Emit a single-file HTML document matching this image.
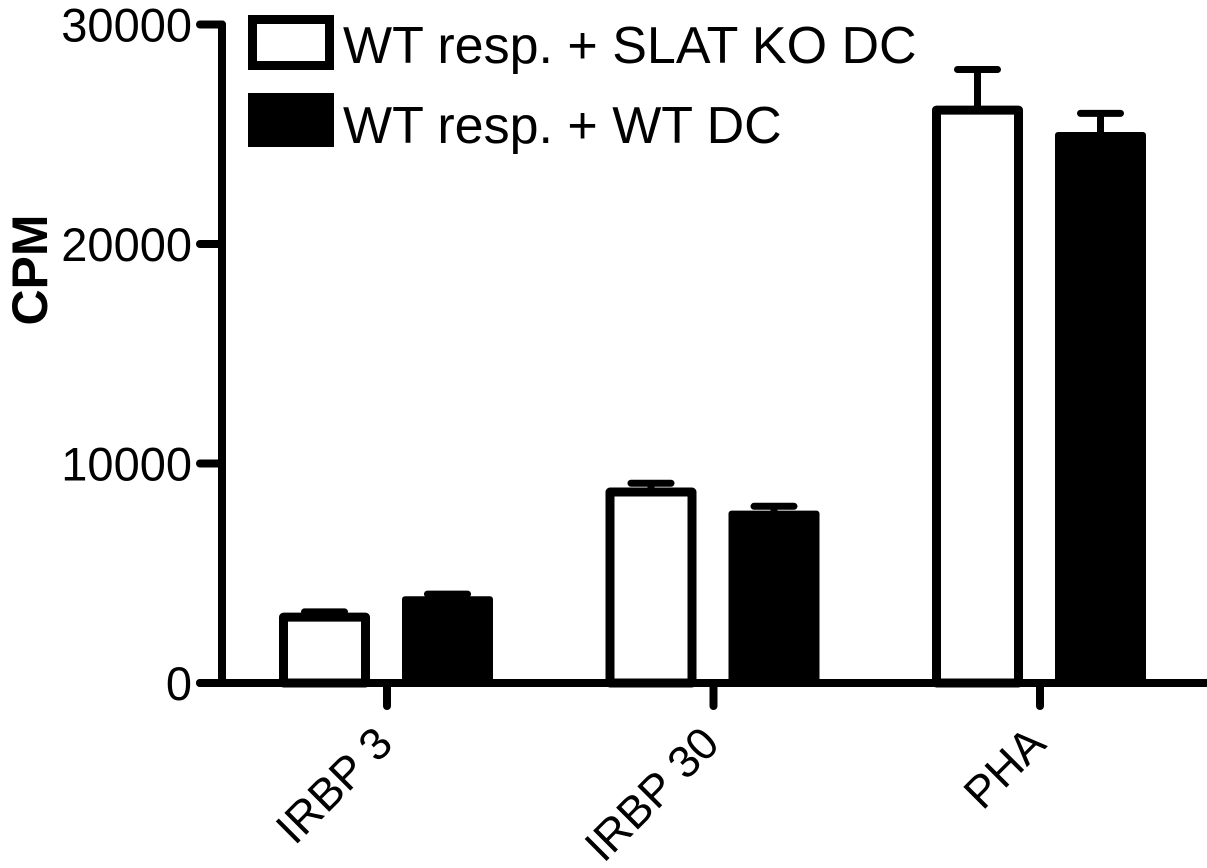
<!DOCTYPE html>
<html><head><meta charset="utf-8"><style>
html,body{margin:0;padding:0;background:#fff;}
svg{display:block;font-family:"Liberation Sans",Arial,sans-serif;}
</style></head><body>
<svg id="chart" width="1207" height="868" viewBox="0 0 1207 868" xmlns="http://www.w3.org/2000/svg">
<g id="axes"></g>
<g id="bars"></g>
<g id="legend">
  <rect x="252.5" y="19.5" width="77" height="46" fill="#fff" stroke="#000" stroke-width="9"/>
  <text x="343" y="63" font-size="52">WT resp. + SLAT KO DC</text>
  <rect x="248" y="93" width="86" height="54" fill="#000"/>
  <text x="343" y="143" font-size="52">WT resp. + WT DC</text>
</g>
<text transform="translate(47,270) rotate(-90)" text-anchor="middle" font-size="50" font-weight="bold">CPM</text>
</svg>
<script>
const categories = ["IRBP 3", "IRBP 30", "PHA"];
const koValues = [3000, 8700, 26100];
const koErrors = [240, 400, 1850];
const wtValues = [3750, 7650, 24900];
const wtErrors = [300, 400, 1050];
const yTicks = [0, 10000, 20000, 30000];

const NS = "http://www.w3.org/2000/svg";
const y0 = 683, yTop = 24.5, yMax = 30000;
function yScale(v){ return y0 - (y0 - yTop) * v / yMax; }
const catX0 = 387, catStep = 326.5;
function xScale(i){ return catX0 + i * catStep; }
function mk(tag, attrs, parent){ const e = document.createElementNS(NS, tag); for (const k in attrs) e.setAttribute(k, attrs[k]); parent.appendChild(e); return e; }

const axes = document.getElementById('axes');
const bars = document.getElementById('bars');

let yl = mk('line', {x1:222, y1:yScale(yMax), x2:222, y2:y0, stroke:'#000', 'stroke-width':8, 'stroke-linecap':'round'}, axes);


yTicks.forEach(t => {
  const y = yScale(t);
  const tk = mk('line', {x1:200, y1:y, x2:222, y2:y, stroke:'#000', 'stroke-width':8, 'stroke-linecap':'round'}, axes);
  
  
  const lb = mk('text', {x:192, y:y + 17, 'text-anchor':'end', 'font-size':47}, axes);
  lb.textContent = String(t);
  
  
});
let xl = mk('line', {x1:200, y1:y0, x2:1207, y2:y0, stroke:'#000', 'stroke-width':8, 'stroke-linecap':'round'}, axes);


categories.forEach((c, i) => {
  const x = xScale(i);
  const tk = mk('line', {x1:x, y1:y0, x2:x, y2:706, stroke:'#000', 'stroke-width':8, 'stroke-linecap':'round'}, axes);
  
  
  const lb = mk('text', {'text-anchor':'end', 'font-size':45, transform:`translate(${x + 8},746) rotate(-45)`}, axes);
  lb.textContent = c;
  
  
});

const barW = 91, sw = 9;
function errBar(cx, topY, v, e){
  const ye = yScale(v + e);
  const l = mk('line', {x1:cx, y1:topY, x2:cx, y2:ye, stroke:'#000', 'stroke-width':7}, bars);
  
  
  const cap = mk('line', {x1:cx - 20, y1:ye, x2:cx + 20, y2:ye, stroke:'#000', 'stroke-width':7, 'stroke-linecap':'round'}, bars);
  
  
}
categories.forEach((c, i) => {
  const cx = xScale(i);
  const kL = cx - 108, kTop = yScale(koValues[i]);
  errBar(kL + barW / 2, kTop, koValues[i], koErrors[i]);
  const kb = mk('rect', {x:kL + sw/2, y:kTop, width:barW - sw, height:y0 - kTop, fill:'#fff', stroke:'#000', 'stroke-width':sw, 'stroke-linejoin':'round'}, bars);
  
  
  const wL = cx + 15, wTop = yScale(wtValues[i]);
  errBar(wL + barW / 2, wTop, wtValues[i], wtErrors[i]);
  const wb = mk('rect', {x:wL, y:wTop - sw/2, width:barW, height:y0 - wTop + sw/2, fill:'#000', rx:3}, bars);
  
  
});
</script>
</body></html>
